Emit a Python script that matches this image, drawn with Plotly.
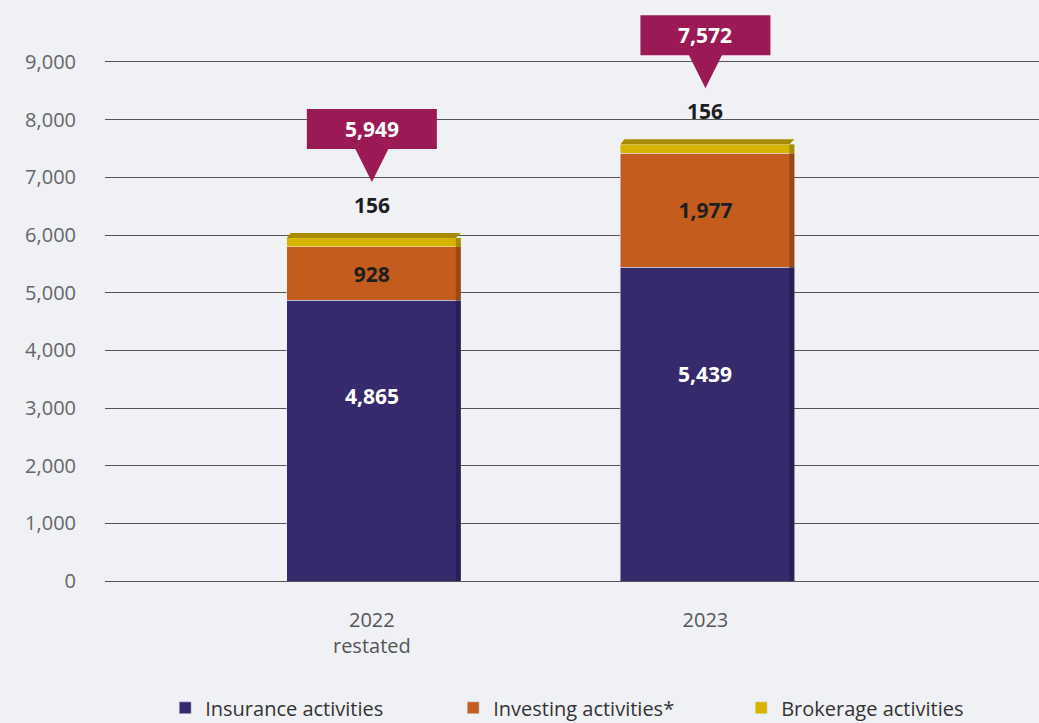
import plotly.graph_objects as go

# --- data
years = ["2022<br>restated", "2023"]
insurance = [4865, 5439]
investing = [928, 1977]
brokerage = [156, 156]
totals = [a + b + c for a, b, c in zip(insurance, investing, brokerage)]
y_ticks = [0, 1000, 2000, 3000, 4000, 5000, 6000, 7000, 8000, 9000]

# --- colours
c_ins = "#372a6c"
c_inv = "#c45c1e"
c_bro = "#d6b400"
c_call = "#9b1a55"
bg = "#eff1f4"

xs = list(range(len(years)))
bar_w = 0.51

fig = go.Figure()
fig.add_bar(x=xs, y=insurance, name="Insurance activities", marker_color=c_ins,
            width=bar_w, hoverinfo="y")
fig.add_bar(x=xs, y=investing, name="Investing activities*", marker_color=c_inv,
            width=bar_w, text=[f"{v:,}" for v in investing], textposition="inside",
            insidetextanchor="middle",
            textfont=dict(family="Open Sans", size=21, color="#1e1e1e", weight="bold"))
fig.add_bar(x=xs, y=brokerage, name="Brokerage activities", marker_color=c_bro,
            width=bar_w)

# fake 3D: darker right face per segment + bevel on top
side = ["#2a1f55", "#9a4716", "#a88c00"]
for i in xs:
    base = 0
    for seg, col in zip([insurance[i], investing[i], brokerage[i]], side):
        fig.add_shape(type="rect", xref="x", yref="y", xsizemode="pixel",
                      xanchor=i, x0=84, x1=89, y0=base, y1=base + seg,
                      fillcolor=col, line_width=0, layer="above")
        base += seg
    fig.add_shape(type="path", xref="x", yref="y", xsizemode="pixel", ysizemode="pixel",
                  xanchor=i, yanchor=totals[i], path="M -85,0 L -81,5 L 89,5 L 84,0 Z",
                  fillcolor="#a88c00", line_width=0, layer="above")

# insurance value labels (sit a bit above bar centre in the original)
for i, v in enumerate(insurance):
    fig.add_annotation(x=i, y=v * 0.66, text=f"{v:,}", showarrow=False,
                       font=dict(family="Open Sans", size=21, color="white", weight="bold"))

# brokerage labels above each bar + callouts with totals
for i, (b, t) in enumerate(zip(brokerage, totals)):
    fig.add_annotation(x=i, y=t, yshift=33, text=f"{b:,}", showarrow=False,
                       font=dict(family="Open Sans", size=21, color="#1e1e1e", weight="bold"))
    fig.add_shape(type="rect", xref="x", yref="y", xsizemode="pixel", ysizemode="pixel",
                  xanchor=i, yanchor=t, x0=-65, x1=65, y0=89, y1=129,
                  fillcolor=c_call, line_width=0, layer="above")
    fig.add_shape(type="path", xref="x", yref="y", xsizemode="pixel", ysizemode="pixel",
                  xanchor=i, yanchor=t, path="M -17,90 L 17,90 L 0,56 Z",
                  fillcolor=c_call, line_width=0, layer="above")
    fig.add_annotation(x=i, y=t, yshift=109, text=f"{t:,}", showarrow=False,
                       font=dict(family="Open Sans", size=21, color="white", weight="bold"))

fig.update_layout(
    barmode="stack",
    width=1039, height=723,
    paper_bgcolor=bg, plot_bgcolor=bg,
    margin=dict(l=105, r=0, t=0, b=142, autoexpand=False),
    font=dict(family="Open Sans", size=20, color="#666"),
    showlegend=True,
    legend=dict(orientation="h", xref="container", yref="container",
                x=0.159, y=0.021, xanchor="left", yanchor="middle",
                traceorder="normal",
                font=dict(family="Open Sans", size=20, color="#333"),
                entrywidth=243, bgcolor="rgba(0,0,0,0)"),
)
fig.update_xaxes(range=[-0.8, 2.0], tickvals=xs, ticktext=years, showgrid=False,
                 zeroline=False, showline=False, ticks="", ticklabelstandoff=25,
                 tickfont=dict(size=20, color="#555"))
fig.update_yaxes(range=[0, 10075], tickvals=y_ticks, tickformat=",",
                 showgrid=True, gridcolor="#555", gridwidth=1,
                 zeroline=True, zerolinecolor="#555", zerolinewidth=1,
                 ticks="", ticklabelstandoff=28,
                 tickfont=dict(size=20, color="#666"))

fig.write_html("out.html", config={"displayModeBar": False},
               post_script="document.body.style.margin='0';"
                           "document.body.style.background='%s';" % bg)
